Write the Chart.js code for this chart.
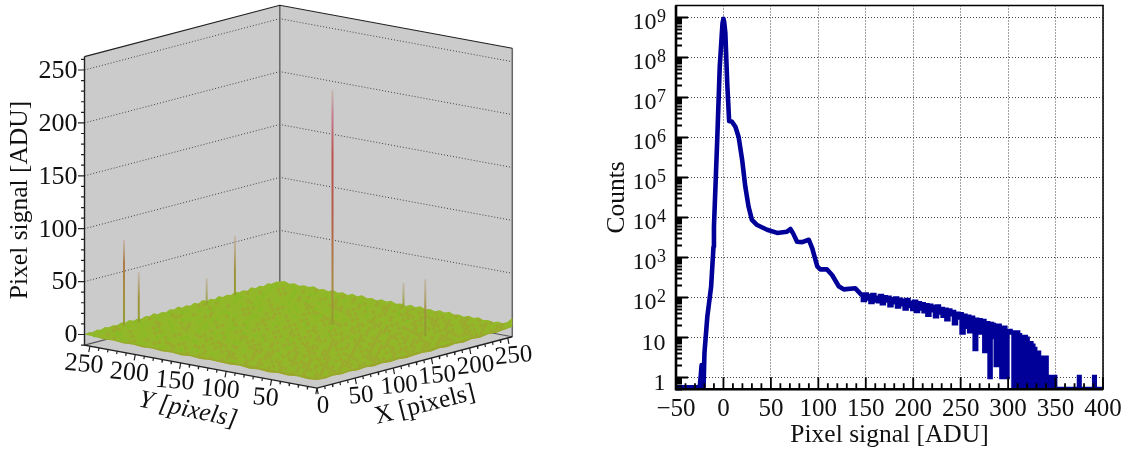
<!DOCTYPE html>
<html>
<head>
<meta charset="utf-8">
<title>Pixel signal</title>
<script src="https://cdn.jsdelivr.net/npm/chart.js@4"></script>
<style>
html, body { margin: 0; padding: 0; background: #fff; }
canvas { position: absolute; top: 0; }
#surfaceChart { left: 0; }
#histChart { left: 560px; }
</style>
</head>
<body>
<canvas id="surfaceChart" width="560" height="452"></canvas>
<canvas id="histChart" width="578" height="452"></canvas>
<script>
'use strict';

// ---- right panel: pixel signal histogram ----
var signalAdu = [-50,-25,-24,-23,-22,-21,-20,-17,-13,-10.5,-10,-6.6,-3.9,-1,0,0.8,2,4,6,9,12.6,16,19.7,23,26.5,30,35.5,46,56.6,67,70.6,73.4,77.6,83,90,93.6,98.9,102,109,114.5,121.5,126.8,139,
  146,148,150,152,154,156,158,160,162,164,166,168,170,172,174,176,178,180,182,184,186,188,190,192,194,196,198,200,
  202,204,206,208,210,212,214,216,218,220,222,224,226,228,230,232,234,236,238,240,242,244,246,248,250,252,254,256,258,260,
  262,264,265.6,267,268,270,272,274,276,278,280,281,282,284,286,288,290,292,294,295,296,298,299,299.5,305.5,306,307,307.5,308,309,310,311,312,313,314,315,316,317,318,319,320,321,322,323,324,325,326,327,328,329,330,331,332,333,334,335,336,337,338,339,340,341,342,343,344,345,348,349,350,374.5,375,375.5,390.5,391,391.5,400];
var pixelCounts = [0.55,0.55,1,2,2,0.55,4,32,180,1800,5700,8e5,5.7e7,7e8,9e8,7.5e8,4e8,2.2e7,2.5e6,2.4e6,1.8e6,1e6,2.7e5,5.8e4,1.8e4,8500,6300,4800,4000,4300,5000,3900,2400,2350,2700,1650,580,490,490,355,186,155,165,
  110,85,115,92,105,75,112,82,96,78,106,70,98,82,95,62,88,74,92,58,85,66,80,52,84,60,72,50,
  76,45,70,52,66,44,62,36,60,47,56,33,58,41,50,34,48,28,46,37,42,22,38,31,37,13,34,18,32,14,
  30,22,5,27,15,26,13,25,4.5,22,9,1,21,20,10,2,19,9,1,1,17,1,1,14,13,0.5,13,0.5,12,1,13,0.5,11,0.5,10,0.5,9,0.5,10,0.5,9,0.5,7,0.5,7,0.5,6,1,5,0.5,4,0.5,4,0.5,3,0.5,2,0.5,3,1,3,0.5,1,1,0.5,0.5,1,1,0.5,0.5,1,0.5,0.5,1,0.5,0.5];
var xTickValues = [-50,-40,-30,-20,-10,0,10,20,30,40,50,60,70,80,90,100,110,120,130,140,150,160,170,180,190,200,210,220,230,240,250,260,270,280,290,300,310,320,330,340,350,360,370,380,390,400];
var yDecades = [1,10,100,1e3,1e4,1e5,1e6,1e7,1e8,1e9];
var yDecadeExponents = ['','','2','3','4','5','6','7','8','9'];
var yMinorTicks = [0.5,0.6,0.7,0.8,0.9,2,3,4,5,6,7,8,9,20,30,40,50,60,70,80,90,200,300,400,500,600,700,800,900,
  2e3,3e3,4e3,5e3,6e3,7e3,8e3,9e3,2e4,3e4,4e4,5e4,6e4,7e4,8e4,9e4,2e5,3e5,4e5,5e5,6e5,7e5,8e5,9e5,
  2e6,3e6,4e6,5e6,6e6,7e6,8e6,9e6,2e7,3e7,4e7,5e7,6e7,7e7,8e7,9e7,2e8,3e8,4e8,5e8,6e8,7e8,8e8,9e8];
var noisyTailFrom = 146;

// ---- left panel: detector surface, axes in pixels / ADU ----
var spikeX = [47,64,153,196,162,255,180];
var spikeY = [252,250,250,255,119,119,32];
var spikeZ = [81,47.5,25,56,222,22,53.6];
var zTicks = [0,50,100,150,200,250];
var zMinor = [-10,10,20,30,40,60,70,80,90,110,120,130,140,160,170,180,190,210,220,230,240,260];
var planeMajor = [0,50,100,150,200,250];
var planeMinor = [10,20,30,40,60,70,80,90,110,120,130,140,160,170,180,190,210,220,230,240];

// height of the jagged surface rim, sampled along each side
var rimLeftToBack = [0,1,0.2,1.4,0.5,2,0.7,1.6,0.6,2.2,1,2.6,0.9,1.8,0.7,2.4,1.2,3,1,2.1,0.8,2.7,1.3,3.2,1,2.3,0.9,2.8,1.1,3.4,1.4,2.4,1,3,1.2,2.2,0.9,3.1,1.5,2.5,1,3.2,1.3,2.6,1.1,3,1.6,2.4,1.5];
var rimBackToRight = [1.5,3,1.2,2.6,0.9,2.3,1.4,3.1,1,2.2,0.8,2.8,1.1,2.4,0.7,2.7,1.2,3,0.9,2.1,0.6,2.5,1.3,2.9,0.8,2,0.5,2.4,1,2.7,0.7,1.9,0.5,2.3,1,2.6,0.6,1.8,0.4,2.2,0.9,2.5,0.7,1.6,0.4,2,1,3.2,8];
var rimRightToFront = [-0.5,-1.4,-2.2,-1.6,-2.8,-2,-3.2,-2.4,-3.4,-2.6,-3.8,-2.8,-3.3,-3.9,-2.9,-3.6,-2.7,-3.5,-2.5,-3.3,-2.4,-3.1,-2.2,-2.9,-2.4];
var rimFrontToLeft = [-2.4,-3,-2.2,-3.2,-2.5,-3.4,-2.6,-3.3,-2.3,-3,-2.6,-2.2,-2.9,-2,-2.6,-1.7,-2.2,-1.4,-1.9,-1,-1.5,-0.6,-1,-0.3,0];

// speckle of the surface: one row per Y (back edge first), one char per X, b = bright, d = olive
var surfaceSpeckle = [
'..b..d...bb.d...b.....dd..b...b.d....bb.',
'b...dd.b.....b..d.bb.....d...bb...d.b...',
'.d.b....bb.d...dd...b.d....b.....b..dd.b',
'..bb.d.....d.b....d..bb..d...d.bb.......',
'd.....b.dd....bbb...d.....b.d.....dd.b..',
'.b.d....b..b.d....dd.bb.....bb.d....b.d.',
'...bb.dd.....d.b.....b..ddd....b.bb....d',
'dd.....b.b.dd....bb.d......b.d.....d.bb.',
'..d.bb....d...b.d...b.dd.b....bb.d.d....',
'b....d.dd...bb.....d...b...ddd....b...b.',
'.dd.b.....b...dd.b...bb.d.....b.d..dd...',
'...d..bb.d..d....d.b.....dd.b...d.b...bd',
'b.d.....dd.b..bb.d...ddd....b.dd....d...',
'..ddd.b.....d....b.dd..b.d.....b..dd.b.d',
'd....b.dd.bb.dd....d.....b.ddd...d...d..',
'.bd.d.....d...b.dd..bb.d.....d.b.dd...b.',
'...dd.dd.b..d....d.d....dd.bb...d...dd..',
'd.b....d...dd.bb....ddd.b...d....ddd...d',
'..d.ddd.bb....d.dd.....d..dd.b.d...b.d..',
'dd.....d..dd.b.....dd.b....d...dd.d...dd',
'.b.dd.d.....d.dd.d....d.ddd.b.....d.dd..',
'd...d...ddd....b.dd.dd....d..dd.b...d..d',
'..dd.b.d...dd.d.....d..b.dd.....ddd.d...',
'ddd....dd.d...b.ddd...dd....d.dd....b.dd',
'.d.d.dd....ddd....d.b....ddd.d...d.dd...',
'b...d..ddd.b..dd.d..ddd.d....dd.d...d.dd',
'.dd..dd....d.d..dd.....dd.ddd....ddd....',
'd..ddd.b.dd..dd...d.dd...d...ddd.b..dd.d',
'.d....dd.d.ddd..ddd.b.dd..dd.....dd.d...',
'dd.dd...d..d...dd...dd...ddd.dd.d...ddd.',
'...d.dd.ddd.dd...d.dd.dd.b...d.dd.dd...d',
'ddd..d.....dd.ddd.d...d..ddd.dd...d.dd..',
'.d.ddd.dd.d.....dd.ddd.dd...d..ddd.d..dd',
'dd...dd.ddd.dd.d...d..d.ddd.dd....dd.dd.',
'..ddd...d...dd.ddd.dd...d..dd.ddd...d..d',
'dd.d.ddd.dd.d...d.ddd.dd.dd.....dd.ddd..',
'.ddd.d...ddd.dd.d..d...ddd.d.ddd..d..ddd',
'd...ddd.dd.d.ddd.dd.ddd..d..dd.d.ddd.d..',
'.dd.d.ddd...dd...ddd.d.dd.ddd.ddd..d..dd',
'dd.ddd.d.dd.ddd.d..dd.dd.d..d...ddd.ddd.'
];

// oblique projection of the box, result is in the panel scale units
var AXIS_MAX = 256, Z_MIN = -10, Z_MAX = 262.7, Z_UNIT = 1.058;
function project(px, py, pz) {
  var zero = 377.5;
  return {
    x: 317 + (px / AXIS_MAX) * 195.3 - (py / AXIS_MAX) * 232.5,
    y: zero - (px / AXIS_MAX) * 51.3 - (py / AXIS_MAX) * 43 - pz * Z_UNIT
  };
}
function rimPoints(rim, from, to) {
  var out = [];
  for (var i = 0; i < rim.length; i++) {
    var t = i / (rim.length - 1);
    out.push(project(from[0] + (to[0] - from[0]) * t, from[1] + (to[1] - from[1]) * t, rim[i]));
  }
  return out;
}
function poly(points, color) {
  return {data: points, showLine: true, fill: 'shape', backgroundColor: color, borderColor: color, borderWidth: 0, pointRadius: 0};
}
function wire(points, color, width, dash) {
  return {data: points, showLine: true, fill: false, borderColor: color, borderWidth: width, borderDash: dash || [], pointRadius: 0, spanGaps: false};
}

var surfaceSets = [];
// walls and floor
surfaceSets.push(poly([project(0,AXIS_MAX,Z_MIN),project(AXIS_MAX,AXIS_MAX,Z_MIN),project(AXIS_MAX,AXIS_MAX,Z_MAX),project(0,AXIS_MAX,Z_MAX)], '#cbcbcb'));
surfaceSets.push(poly([project(AXIS_MAX,AXIS_MAX,Z_MIN),project(AXIS_MAX,0,Z_MIN),project(AXIS_MAX,0,Z_MAX),project(AXIS_MAX,AXIS_MAX,Z_MAX)], '#cbcbcb'));
surfaceSets.push(poly([project(0,0,Z_MIN),project(AXIS_MAX,0,Z_MIN),project(AXIS_MAX,AXIS_MAX,Z_MIN),project(0,AXIS_MAX,Z_MIN)], '#cbcbcb'));
// dotted grid on the walls
zTicks.forEach(function (z) {
  surfaceSets.push(wire([project(0,AXIS_MAX,z),project(AXIS_MAX,AXIS_MAX,z),project(AXIS_MAX,0,z)], '#444', 1, [1,2]));
});
surfaceSets.push(wire([project(AXIS_MAX,AXIS_MAX,Z_MIN),project(AXIS_MAX,AXIS_MAX,Z_MAX)], '#666', 1.5));
surfaceSets.push(wire([project(AXIS_MAX,0,Z_MIN),project(AXIS_MAX,0,Z_MAX)], '#666', 1.5));
surfaceSets.push(wire([project(0,AXIS_MAX,Z_MAX),project(AXIS_MAX,AXIS_MAX,Z_MAX),project(AXIS_MAX,0,Z_MAX)], '#222', 1.2));
surfaceSets.push(wire([project(0,AXIS_MAX,Z_MIN),project(AXIS_MAX,AXIS_MAX,Z_MIN),project(AXIS_MAX,0,Z_MIN)], '#555', 1.2));

// surface body
var rimA = rimPoints(rimLeftToBack, [0,AXIS_MAX], [AXIS_MAX,AXIS_MAX]);
var rimB = rimPoints(rimBackToRight, [AXIS_MAX,AXIS_MAX], [AXIS_MAX,0]);
var rimC = rimPoints(rimRightToFront, [AXIS_MAX,0], [0,0]);
var rimD = rimPoints(rimFrontToLeft, [0,0], [0,AXIS_MAX]);
surfaceSets.push(poly(rimA.concat(rimB, rimC, rimD), '#92b82a'));

var brightDots = [], oliveDots = [];
surfaceSpeckle.forEach(function (row, r) {
  for (var c = 0; c < row.length; c++) {
    var ch = row.charAt(c);
    if (ch === '.') continue;
    var yBack = AXIS_MAX - (r + 0.5) * AXIS_MAX / surfaceSpeckle.length;
    // every other row sits half a cell over so the speckle does not line up
    var xCell = (c + (r % 2 ? 0.25 : 0.75)) * AXIS_MAX / row.length;
    (ch === 'b' ? brightDots : oliveDots).push(project(xCell, yBack, 0));
  }
});
surfaceSets.push({data: oliveDots, pointStyle: 'rect', pointRadius: 2.2, backgroundColor: '#9ca82e', borderWidth: 0});
surfaceSets.push({data: brightDots, pointStyle: 'rect', pointRadius: 2, backgroundColor: '#86bb24', borderWidth: 0});

// olive skirt along the two front sides
var skirtRight = rimC.concat([project(0,0,-0.6), project(128,0,-0.8), project(AXIS_MAX,0,-0.2)]);
var skirtLeft = rimD.concat([project(0,AXIS_MAX,0), project(0,128,-0.8), project(0,0,-0.6)]);
surfaceSets.push(poly(skirtRight, '#9aa62c'));
surfaceSets.push(poly(skirtLeft, '#9aa62c'));

// spikes above the surface, tinted by height
var spikePalette = [[0,'#8f9f2d'],[25,'#a39240'],[60,'#ad7c48'],[100,'#b4604a'],[160,'#b9504c'],[200,'#c57f92'],[222,'#d6b4cc']];
spikeZ.forEach(function (top, i) {
  var base = project(spikeX[i], spikeY[i], 0), tip = project(spikeX[i], spikeY[i], top);
  surfaceSets.push({
    data: [base, tip], showLine: true, fill: false, pointRadius: 0, borderWidth: 2,
    borderColor: function (ctx) {
      var y0 = ctx.chart.scales.y ? ctx.chart.scales.y.getPixelForValue(base.y) : NaN;
      var y1 = ctx.chart.scales.y ? ctx.chart.scales.y.getPixelForValue(tip.y) : NaN;
      if (!isFinite(y0) || !isFinite(y1)) return '#a39240';
      var g = ctx.chart.ctx.createLinearGradient(0, y0, 0, y1);
      spikePalette.forEach(function (s) { if (s[0] < top) g.addColorStop(s[0] / top, s[1]); });
      g.addColorStop(1, 'rgba(190,170,150,0.6)');
      return g;
    }
  });
});

// axis lines and ticks
function tickSet(list, origin, step, len) {
  var out = [];
  list.forEach(function (v) {
    var a = origin(v);
    out.push(a, {x: a.x + step[0] * len, y: a.y + step[1] * len}, {x: NaN, y: NaN});
  });
  return out;
}
function onZ(v) { return project(0, AXIS_MAX, v); }
function onY(v) { return project(0, v, Z_MIN); }
function onX(v) { return project(v, 0, Z_MIN); }
surfaceSets.push(wire([project(0,AXIS_MAX,Z_MAX),project(0,AXIS_MAX,Z_MIN),project(0,0,Z_MIN),project(AXIS_MAX,0,Z_MIN)], '#222', 1.4));
surfaceSets.push(wire(tickSet(zTicks, onZ, [-1,0], 6.5), '#222', 1.2));
surfaceSets.push(wire(tickSet(zMinor, onZ, [-1,0], 3.5), '#222', 1.2));
surfaceSets.push(wire(tickSet(planeMajor, onY, [-0.2,1], 6), '#222', 1.2));
surfaceSets.push(wire(tickSet(planeMinor, onY, [-0.2,1], 3), '#222', 1.2));
surfaceSets.push(wire(tickSet(planeMajor, onX, [0.2,1], 6), '#222', 1.2));
surfaceSets.push(wire(tickSet(planeMinor, onX, [0.2,1], 3), '#222', 1.2));

// Chart.js paints the first dataset on top, these were listed back to front
surfaceSets.reverse();

var serif = '"Liberation Serif", "Times New Roman", serif';

var surfaceLabels = {
  id: 'surfaceLabels',
  afterDraw: function (chart) {
    var ctx = chart.ctx, sx = chart.scales.x, sy = chart.scales.y;
    ctx.save();
    ctx.fillStyle = '#111';
    ctx.textBaseline = 'middle';
    function put(text, px, py, deg, font, align) {
      ctx.save();
      ctx.font = font;
      ctx.textAlign = align || 'center';
      ctx.translate(sx.getPixelForValue(px), sy.getPixelForValue(py));
      ctx.rotate(deg * Math.PI / 180);
      ctx.fillText(text, 0, 0);
      ctx.restore();
    }
    var tickFont = '26px ' + serif, xTickFont = '25px ' + serif, titleFont = '25.5px ' + serif;
    zTicks.forEach(function (v) {
      var p = onZ(v);
      put(String(v), p.x - 7, p.y + 1, 0, tickFont, 'right');
    });
    planeMajor.forEach(function (v) {
      var p = onY(v);
      if (v > 0) put(String(v), p.x - 6, p.y + 18.6, 5, tickFont);
      var q = onX(v);
      put(String(v), q.x + 6, q.y + 18, v > 0 ? -5 : 0, xTickFont);
    });
    put('Pixel signal [ADU]', 20, 200, -90, titleFont);
    put('Y [pixels]', 188, 410, 12, 'italic ' + titleFont);
    put('X [pixels]', 425, 405, -14, titleFont);
    ctx.restore();
  }
};

new Chart(document.getElementById('surfaceChart'), {
  type: 'scatter',
  data: {datasets: surfaceSets},
  options: {
    responsive: false,
    animation: false,
    layout: {autoPadding: false, padding: 0},
    plugins: {legend: {display: false}, tooltip: {enabled: false}},
    scales: {
      x: {display: false, min: 0, max: 560},
      y: {display: false, min: 0, max: 452, reverse: true}
    }
  },
  plugins: [surfaceLabels]
});

// inward ticks, frame and power-of-ten labels of the histogram
var histFrame = {
  id: 'histFrame',
  afterDatasetsDraw: function (chart) {
    var ctx = chart.ctx, a = chart.chartArea, sx = chart.scales.x, sy = chart.scales.y;
    ctx.save();
    ctx.strokeStyle = '#000';
    ctx.lineWidth = 1.8;
    ctx.beginPath();
    yDecades.forEach(function (v) {
      var p = Math.round(sy.getPixelForValue(v)) + 0.5;
      ctx.moveTo(a.left, p); ctx.lineTo(a.left + 12, p);
    });
    yMinorTicks.forEach(function (v) {
      var p = Math.round(sy.getPixelForValue(v)) + 0.5;
      ctx.moveTo(a.left, p); ctx.lineTo(a.left + 6, p);
    });
    xTickValues.forEach(function (v) {
      var p = sx.getPixelForValue(v);
      ctx.moveTo(p, a.bottom); ctx.lineTo(p, a.bottom - (v % 50 === 0 ? 12 : 6));
    });
    ctx.stroke();
    ctx.lineWidth = 1.5;
    ctx.strokeRect(a.left, a.top, a.right - a.left, a.bottom - a.top);
    ctx.lineWidth = 2.6;
    ctx.beginPath();
    ctx.moveTo(a.left, a.top); ctx.lineTo(a.left, a.bottom); ctx.lineTo(a.right, a.bottom);
    ctx.stroke();

    ctx.fillStyle = '#111';
    ctx.textBaseline = 'alphabetic';
    yDecades.forEach(function (v, i) {
      var p = sy.getPixelForValue(v), exp = yDecadeExponents[i];
      ctx.textAlign = 'right';
      if (exp) {
        ctx.font = '18px ' + serif;
        ctx.fillText(exp, a.left - 10, p + 4.5);
        ctx.font = '24px ' + serif;
        ctx.fillText('10', a.left - 19.5, p + 12);
      } else {
        ctx.font = '24px ' + serif;
        ctx.fillText(String(v), a.left - 10.5, p + 12.5);
      }
    });
    ctx.restore();
  }
};

var histPoints = signalAdu.map(function (x, i) { return {x: x, y: pixelCounts[i]}; });
var cleanPart = histPoints.filter(function (p) { return p.x <= noisyTailFrom; });
var tailPart = histPoints.filter(function (p) { return p.x >= noisyTailFrom; });

new Chart(document.getElementById('histChart'), {
  type: 'line',
  data: {
    datasets: [{
      data: cleanPart,
      borderColor: '#000099',
      borderWidth: 4.6,
      borderJoinStyle: 'round',
      pointRadius: 0,
      tension: 0,
      fill: false
    }, {
      data: tailPart,
      borderColor: '#000099',
      borderWidth: 4.6,
      stepped: 'middle',
      pointRadius: 0,
      fill: false
    }]
  },
  options: {
    responsive: false,
    animation: false,
    layout: {autoPadding: false, padding: {top: 5.5, right: 35, bottom: 0, left: 0}},
    plugins: {legend: {display: false}, tooltip: {enabled: false}},
    scales: {
      x: {
        type: 'linear',
        min: -50,
        max: 400,
        afterFit: function (scale) { scale.height = 62.7; },
        afterBuildTicks: function (scale) { scale.ticks = xTickValues.map(function (v) { return {value: v}; }); },
        grid: {
          drawTicks: false,
          lineWidth: 1,
          color: function (ctx) { return ctx.tick && ctx.tick.value % 50 === 0 ? '#444' : 'rgba(0,0,0,0)'; }
        },
        border: {display: false, dash: [1,2]},
        ticks: {
          autoSkip: false,
          maxRotation: 0,
          padding: 5,
          color: '#111',
          font: {family: serif, size: 25},
          callback: function (v) { return v % 50 === 0 ? String(v).replace('-', '\u2212') : ''; }
        },
        title: {display: true, text: 'Pixel signal [ADU]', color: '#111', font: {family: serif, size: 25.5}, padding: {top: 0, bottom: 1}}
      },
      y: {
        type: 'logarithmic',
        min: 0.4926,
        max: 1.94e9,
        afterFit: function (scale) { scale.width = 116; },
        afterBuildTicks: function (scale) { scale.ticks = yDecades.map(function (v) { return {value: v}; }); },
        grid: {drawTicks: false, lineWidth: 1, color: '#444'},
        border: {display: false, dash: [1,2]},
        ticks: {display: false},
        title: {display: true, text: 'Counts', color: '#111', font: {family: serif, size: 25.5}, padding: {top: 42, bottom: 0}}
      }
    }
  },
  plugins: [histFrame]
});
</script>
</body>
</html>
